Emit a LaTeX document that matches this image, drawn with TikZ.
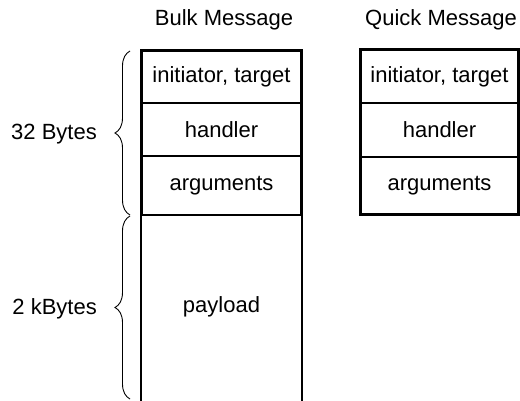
\documentclass[tikz,border=0pt]{standalone}
\usepackage{fontspec}
\setmainfont{Liberation Sans}
\usetikzlibrary{decorations.pathreplacing}
\begin{document}
\begin{tikzpicture}[x=1pt,y=-1pt,
  txt/.style={font=\fontsize{22}{26}\selectfont, inner sep=0pt},
  cell/.style={draw, line width=1.2pt, inner sep=0pt, font=\fontsize{22}{26}\selectfont},
  bulkcell/.style={cell, minimum width=159pt},
  quickcell/.style={cell, minimum width=157pt},
  outline/.style={line width=2pt, line cap=rect},
  bracestyle/.style={line width=0.9pt, decorate, decoration={brace, amplitude=15pt}}]
\useasboundingbox (0,0) rectangle (520,401);
% bulk message
\node[txt] (bulktitle) at (224,20) {Bulk Message};
\node[bulkcell, minimum height=52pt] (bi) at (221.5,77) {initiator, target};
\node[bulkcell, minimum height=53pt] (bh) at (221.5,129.5) {handler};
\node[bulkcell, minimum height=59pt] (ba) at (221.5,185.5) {arguments};
\node[cell, draw=none, minimum width=159pt, minimum height=184pt] (bp) at (221.5,307) {payload};
\draw[outline] (bp.south west) -- (bi.north west) -- (bi.north east) -- (bp.south east);
% quick message
\node[txt] (quicktitle) at (441,20) {Quick Message};
\node[quickcell, minimum height=53pt] (qi) at (439.5,76.5) {initiator, target};
\node[quickcell, minimum height=54pt] (qh) at (439.5,130) {handler};
\node[quickcell, minimum height=57pt] (qa) at (439.5,185.5) {arguments};
\draw[outline] (qi.north west) rectangle (qa.south east);
% braces
\coordinate (b1top) at (130,51);
\coordinate (b1bot) at (130,215);
\coordinate (b2top) at (130,216);
\coordinate (b2bot) at (130,399);
\draw[bracestyle] (b1bot) -- (b1top);
\draw[bracestyle] (b2bot) -- (b2top);
\node[txt, anchor=east] (l32) at (97,134) {32 Bytes};
\node[txt, anchor=east] (l2k) at (97,309) {2 kBytes};
\end{tikzpicture}
\end{document}
